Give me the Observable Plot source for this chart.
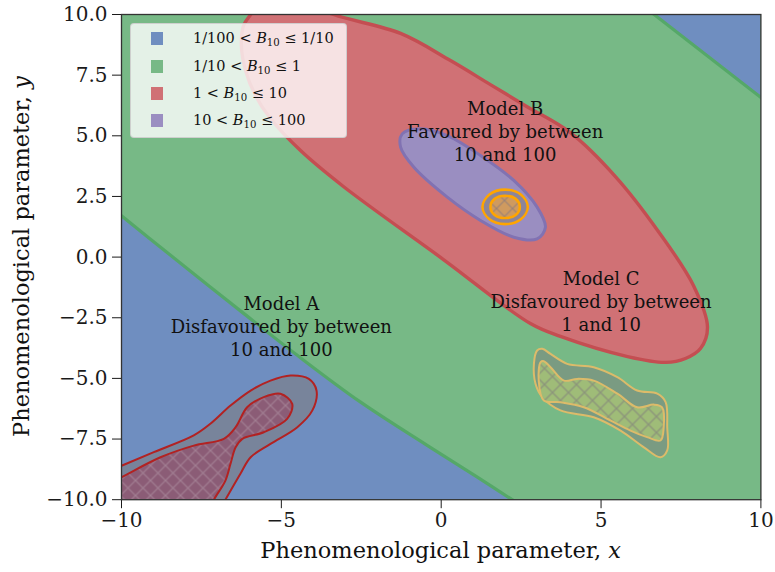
<!DOCTYPE html>
<html>
<head>
<meta charset="utf-8">
<script src="https://cdn.jsdelivr.net/npm/d3@7"></script>
<script src="https://cdn.jsdelivr.net/npm/@observablehq/plot@0.6"></script>
<style>
  body { margin: 0; background: #fff; }
  #wrap { position: relative; width: 775px; height: 572px; font-family: "DejaVu Serif", serif; }
  #legend { position: absolute; left: 130px; top: 23px; width: 217px; height: 115px; box-sizing: border-box;
            background: rgba(255,255,255,0.8); border: 1px solid rgba(200,200,200,0.8); border-radius: 4px; font-size: 14.5px; color: #111; }
  .sw { position: absolute; left: 20px; width: 12px; height: 12.5px; }
  .lt { position: absolute; left: 62px; white-space: nowrap; line-height: 1; }
  .lt sub { font-size: 0.7em; vertical-align: -0.3em; line-height: 0; }
</style>
</head>
<body>
<div id="wrap"></div>
<script>
// ---------- data ----------
const xTicks = [-10, -5, 0, 5, 10];
const yTicks = [-10, -7.5, -5, -2.5, 0, 2.5, 5, 7.5, 10];

const legendLabels = [
  "1/100 &lt; <i>B</i><sub>10</sub> ≤ 1/10",
  "1/10 &lt; <i>B</i><sub>10</sub> ≤ 1",
  "1 &lt; <i>B</i><sub>10</sub> ≤ 10",
  "10 &lt; <i>B</i><sub>10</sub> ≤ 100"
];
const regionFill = ["#6f8ec0", "#77b986", "#d07175", "#9a8ec1"];
const regionEdge = ["#4C72B0", "#55A868", "#C44E52", "#8172B2"];

// B10 = 1/10 boundary (green / blue), lower-left side and upper-right side
const tenthLowerLeft = [[-14, 6.1], [-12, 3.86], [-10, 1.7], [-8.26, -0.14], [-6.17, -2.33], [-4.49, -4.06], [-2.52, -5.98],
  [-0.44, -7.76], [1.13, -9.07], [2.22, -10], [4.2, -11.64], [6, -13.1], [-14, -14]];
const tenthUpperRight = [[14, 2.6], [12, 4.6], [10, 6.58], [8.3, 8.32], [6.66, 10], [4.7, 12], [3, 13.7], [14, 14]];

// B10 = 1 boundary (red contour)
const oneContour = [[-5.59, 10.66], [-4.71, 10.74], [-3.37, 10], [-1.27, 9.22], [0.29, 8.1], [1.54, 7.11], [2.7, 6.19],
  [4.04, 5.13], [5.45, 3.32], [6.77, 1.1], [7.89, -1.17], [8.33, -2.9], [8.11, -3.77], [7.64, -4.18], [7.02, -4.34],
  [5.83, -4.1], [3.73, -3.27], [2.79, -2.74], [0.07, -0.1], [-3.06, 2.91], [-4.4, 4.39], [-5.34, 5.71], [-5.81, 6.66],
  [-6.12, 7.69], [-6.25, 8.72], [-6.18, 9.55], [-5.96, 10]];

// B10 = 10 boundary (purple contour)
const tenContour = [[-1.22, 5.08], [-0.65, 5.29], [0.19, 5.01], [1.23, 4.19], [2.27, 3.16], [3.0, 2.06], [3.26, 1.23],
  [3.0, 0.75], [2.27, 0.82], [1.23, 1.51], [0.19, 2.47], [-0.86, 3.71], [-1.27, 4.53]];

// Model A posterior contours
const modelAOuter = [[-10.8, -9.05], [-9.98, -8.59], [-8.99, -8.04], [-7.74, -7.35], [-7.22, -6.87], [-6.59, -6.12],
  [-5.96, -5.5], [-5.34, -5.09], [-4.71, -4.88], [-4.14, -5.02], [-3.9, -5.5], [-4.03, -6.32], [-4.5, -7.01],
  [-5.34, -7.7], [-5.96, -8.25], [-6.28, -8.93], [-6.75, -10], [-7.1, -10.8], [-7.6, -12], [-12, -12], [-12, -9.8]];
const modelAInner = [[-10.8, -9.6], [-10, -9.07], [-8.78, -8.25], [-7.74, -7.77], [-6.8, -7.49], [-6.43, -7.01],
  [-6.07, -6.19], [-5.55, -5.77], [-5.03, -5.63], [-4.66, -6.05], [-4.82, -6.67], [-5.55, -7.22], [-6.22, -7.49],
  [-6.43, -7.84], [-6.59, -8.52], [-6.75, -9.21], [-7.11, -10], [-7.4, -10.8], [-8, -12], [-12, -12], [-12, -10.2]];

// Model B posterior contours
const modelBOuter = [[2.71, 2.07], [2.5, 2.57], [2.0, 2.78], [1.5, 2.57], [1.29, 2.07], [1.5, 1.57], [2.0, 1.36], [2.5, 1.57]];
const modelBInner = [[2.46, 2.07], [2.33, 2.4], [2.0, 2.53], [1.67, 2.4], [1.54, 2.07], [1.67, 1.74], [2.0, 1.61], [2.33, 1.74]];

// Model C posterior contours
const modelCOuter = [[3.16, -3.78], [3.42, -3.99], [3.94, -4.4], [4.77, -4.54], [5.51, -4.95], [6.13, -5.5], [6.76, -5.63],
  [7.02, -5.98], [7.07, -7.01], [7.07, -7.97], [6.86, -8.25], [6.34, -7.84], [5.61, -7.15], [4.77, -6.6], [3.73, -6.32],
  [3.16, -5.77], [2.95, -5.22], [2.9, -4.4], [3.0, -3.85]];
const modelCInner = [[3.21, -4.29], [3.42, -4.54], [3.84, -5.09], [4.25, -5.02], [4.77, -5.09], [5.51, -5.63], [6.13, -6.19],
  [6.65, -6.08], [6.91, -6.19], [6.96, -7.01], [6.86, -7.56], [6.44, -7.42], [5.92, -7.15], [5.3, -6.74], [4.46, -6.19],
  [3.73, -5.98], [3.21, -5.91], [3.05, -5.09], [3.11, -4.33]];

const annotationText = ["Model A\nDisfavoured by between\n10 and 100",
                        "Model B\nFavoured by between\n10 and 100",
                        "Model C\nDisfavoured by between\n1 and 10"];
const annotationX = [-5, 2, 5];
const annotationY = [-2.82, 5.22, -1.79];

// ---------- drawing ----------
const shape = (pts, o) => Plot.line(pts, {x: d => d[0], y: d => d[1], curve: "catmull-rom-closed", clip: true, ...o});

function model(outer, inner, c) {
  return [
    shape(outer, {fill: c.outerFill, stroke: c.edge, strokeWidth: c.sw}),
    shape(inner, {fill: c.innerFill, stroke: "none"}),
    shape(inner, {fill: `url(#${c.hatch})`, stroke: "none"}),
    shape(inner, {fill: "none", stroke: c.edge, strokeWidth: c.sw})
  ];
}

const svg = Plot.plot({
  width: 775, height: 572,
  marginLeft: 121, marginRight: 14.6, marginTop: 14, marginBottom: 72.8,
  x: {domain: [-10, 10], ticks: xTicks, tickFormat: d3.format("d"), tickSize: 9, tickPadding: 4, label: null},
  y: {domain: [-10, 10], ticks: yTicks, tickFormat: d3.format(".1f"), tickSize: 9, tickPadding: 5, label: null},
  style: {fontFamily: '"DejaVu Serif", serif', fontSize: "20px", color: "#1a1a1a", background: "white"},
  marks: [
    Plot.frame({fill: regionFill[1], stroke: "none"}),
    shape(tenthLowerLeft, {fill: regionFill[0], stroke: regionEdge[1], strokeWidth: 3.2}),
    shape(tenthUpperRight, {fill: regionFill[0], stroke: regionEdge[1], strokeWidth: 3.2}),
    shape(oneContour, {fill: regionFill[2], stroke: regionEdge[2], strokeWidth: 3.4}),
    shape(tenContour, {fill: regionFill[3], stroke: regionEdge[3], strokeWidth: 3}),
    ...model(modelBOuter, modelBInner, {outerFill: "#8d8598", innerFill: "#cf9a5f", edge: "#ffa500", sw: 2.6, hatch: "hatchB"}),
    ...model(modelAOuter, modelAInner, {outerFill: "#78849b", innerFill: "#8b5c76", edge: "#b22222", sw: 2, hatch: "hatchA"}),
    ...model(modelCOuter, modelCInner, {outerFill: "#7a9b82", innerFill: "#9fbc78", edge: "#dcbb6a", sw: 2, hatch: "hatchC"}),
    Plot.text(annotationText, {x: (d, i) => annotationX[i], y: (d, i) => annotationY[i], text: d => d,
      fontSize: 18, lineHeight: 1.27, fill: "#111", textAnchor: "middle"}),
    Plot.frame({stroke: "#333", strokeWidth: 1.3})
  ]
});

// hatch patterns
const defs = d3.select(svg).insert("defs", ":first-child");
function hatch(id, color, size, width) {
  const p = defs.append("pattern").attr("id", id).attr("patternUnits", "userSpaceOnUse")
    .attr("width", size).attr("height", size);
  p.append("path").attr("d", `M0,0L${size},${size}M${size},0L0,${size}`)
    .attr("stroke", color).attr("stroke-width", width).attr("fill", "none");
}
hatch("hatchA", "#a27f93", 15, 1.2);
hatch("hatchB", "#9a8276", 16, 1.2);
hatch("hatchC", "#8c957a", 16, 1.4);

// axis labels
const s = d3.select(svg);
const xl = s.append("text").attr("x", 440.7).attr("y", 558).attr("text-anchor", "middle")
  .attr("font-size", 22.5).attr("fill", "#111");
xl.append("tspan").text("Phenomenological parameter, ");
xl.append("tspan").attr("font-style", "italic").text("x");
const yl = s.append("text").attr("transform", "translate(29,256.6) rotate(-90)").attr("text-anchor", "middle")
  .attr("font-size", 22.5).attr("fill", "#111");
yl.append("tspan").text("Phenomenological parameter, ");
yl.append("tspan").attr("font-style", "italic").text("y");

const wrap = document.getElementById("wrap");
wrap.appendChild(svg);

// legend
const leg = document.createElement("div");
leg.id = "legend";
const rowTop = [8, 36, 63, 90];
legendLabels.forEach((lab, i) => {
  const sw = document.createElement("div");
  sw.className = "sw"; sw.style.top = rowTop[i] + "px"; sw.style.background = regionFill[i];
  leg.appendChild(sw);
  const t = document.createElement("div");
  t.className = "lt"; t.style.top = (rowTop[i] - 1) + "px"; t.innerHTML = lab;
  leg.appendChild(t);
});
wrap.appendChild(leg);
</script>
</body>
</html>
